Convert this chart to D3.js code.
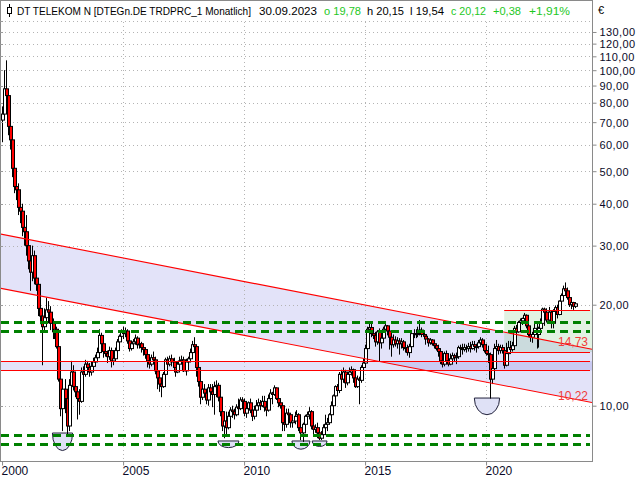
<!DOCTYPE html>
<html><head><meta charset="utf-8">
<script src="https://cdn.jsdelivr.net/npm/d3@7"></script>
<style>body{margin:0;background:#fff}svg{display:block}</style>
</head><body>
<svg id="chart" width="640" height="480"></svg>
<script>
// ---------- DATA (monthly candles Jan 2000 .. Sep 2023) ----------
const firstMonth = new Date(2000, 0, 1);
const lastMonthExclusive = new Date(2023, 9, 1);

const openValues = [
  71, 74, 88, 84, 68, 62, 51, 45, 44, 39, 38, 34,
  33, 30, 27, 25, 28, 24, 23, 19.5, 18.5, 17.2, 18.3, 19.3,
  19.0, 17.6, 16.6, 16.9, 15.0, 12.0, 9.8, 11.2, 10.5, 8.7, 11.5, 12.6,
  11.4, 11.0, 10.5, 10.3, 12.6, 12.4, 13.3, 13.0, 12.6, 13.1, 13.5, 13.9,
  14.4, 16.2, 15.3, 14.5, 14.3, 14.0, 14.6, 13.6, 13.8, 14.6, 15.5, 16.1,
  16.6, 16.4, 16.7, 15.6, 14.8, 15.3, 15.5, 15.9, 15.2, 15.3, 14.9, 14.7,
  14.2, 13.6, 13.3, 13.9, 13.7, 12.7, 12.1, 11.6, 11.4, 12.4, 13.7, 13.3,
  13.8, 13.5, 13.0, 12.6, 13.3, 13.6, 13.7, 12.7, 13.5, 13.8, 14.4, 15.2,
  15.0, 13.0, 11.8, 10.6, 11.2, 10.9, 10.4, 11.3, 11.0, 10.8, 11.4, 11.5,
  10.6, 9.6, 8.7, 9.0, 8.6, 9.3, 9.7, 9.6, 9.4, 9.9, 9.8, 10.4,
  10.3, 9.5, 9.8, 10.2, 9.7, 9.3, 9.7, 10.0, 10.2, 10.0, 10.3, 9.9,
  9.7, 10.5, 10.9, 10.8, 11.3, 10.5, 10.2, 10.0, 8.9, 8.8, 9.5, 9.4,
  8.9, 9.0, 9.3, 9.4, 8.6, 8.3, 8.8, 9.3, 9.4, 9.6, 8.7, 8.5,
  8.6, 8.3, 8.0, 8.2, 8.6, 8.8, 8.9, 9.4, 10.0, 10.7, 11.4, 11.1,
  12.4, 12.0, 12.6, 11.7, 12.4, 12.6, 12.8, 12.1, 11.4, 12.0, 11.9, 13.0,
  13.4, 14.8, 16.9, 17.1, 16.4, 16.2, 15.5, 16.6, 15.4, 15.9, 16.9, 17.3,
  16.7, 16.0, 15.2, 15.7, 15.3, 15.6, 15.3, 15.5, 14.9, 14.9, 14.4, 15.0,
  16.4, 16.3, 16.4, 16.5, 16.8, 16.3, 16.1, 15.8, 15.4, 15.7, 15.3, 15.1,
  14.8, 14.5, 13.6, 13.3, 14.3, 13.6, 13.3, 13.8, 14.1, 13.9, 14.0, 14.9,
  14.8, 14.7, 14.9, 14.8, 15.0, 14.8, 15.2, 15.0, 15.0, 15.4, 15.7, 15.2,
  14.6, 14.3, 14.2, 12.0, 12.9, 14.8, 15.0, 14.6, 14.9, 14.6, 13.2, 14.3,
  14.9, 14.7, 15.1, 17.0, 16.6, 17.7, 17.9, 18.2, 18.6, 17.3, 16.3, 16.0,
  16.3, 17.0, 16.3, 17.0, 17.6, 19.4, 19.0, 18.0, 19.0, 17.6, 19.1, 19.6,
  18.7, 20.5, 21.3, 22.3, 22.0, 21.0, 20.0, 20.3, 19.78
];
const highValues = [
  78, 100, 107, 86, 73, 63, 53, 48, 46, 44, 40, 37,
  37, 31, 28, 30, 29, 27, 24, 21, 19.5, 19.5, 21, 20.5,
  19.8, 18.2, 17.6, 17.2, 15.2, 12.2, 11.8, 12.0, 10.8, 12.0, 13.6, 13.2,
  12.3, 11.3, 11.2, 13.0, 13.1, 13.7, 13.6, 13.4, 13.5, 13.9, 14.2, 14.9,
  16.9, 16.5, 15.6, 15.2, 14.6, 15.0, 14.9, 14.1, 14.9, 15.8, 16.3, 16.9,
  17.2, 17.1, 16.9, 15.8, 15.6, 15.8, 16.3, 16.1, 15.6, 15.5, 15.0, 14.8,
  14.4, 14.0, 14.2, 14.5, 14.0, 12.9, 12.4, 11.9, 12.6, 13.9, 14.0, 14.1,
  14.2, 13.9, 13.3, 13.6, 14.0, 14.1, 14.0, 13.8, 14.0, 14.8, 15.6, 16.0,
  15.2, 13.3, 12.0, 11.6, 11.6, 11.0, 11.6, 11.6, 11.6, 11.8, 11.9, 11.7,
  11.0, 9.9, 9.5, 9.6, 9.6, 9.9, 10.0, 9.8, 10.1, 10.5, 10.6, 10.6,
  10.5, 10.0, 10.3, 10.5, 9.8, 10.0, 10.4, 10.5, 10.4, 10.7, 10.7, 10.0,
  10.8, 11.2, 11.0, 11.5, 11.3, 10.6, 10.5, 10.2, 9.4, 9.8, 9.8, 9.5,
  9.4, 9.6, 9.7, 9.5, 8.8, 8.9, 9.4, 9.6, 9.9, 9.7, 8.9, 8.8,
  8.9, 8.6, 8.4, 8.8, 9.4, 9.2, 9.5, 10.3, 10.8, 11.5, 11.6, 12.6,
  12.8, 13.0, 12.8, 12.6, 13.0, 13.1, 12.9, 12.4, 12.3, 12.2, 13.2, 13.8,
  15.2, 17.2, 17.6, 17.6, 16.8, 16.6, 16.8, 17.0, 16.4, 17.2, 17.6, 17.4,
  16.9, 16.2, 16.3, 16.1, 16.0, 15.9, 15.9, 15.7, 15.3, 15.2, 15.3, 16.5,
  16.9, 16.9, 17.2, 18.0, 17.1, 16.6, 16.1, 15.9, 15.9, 15.8, 15.6, 15.2,
  15.2, 14.6, 13.9, 14.5, 14.6, 13.9, 14.3, 14.4, 14.3, 14.4, 15.1, 15.2,
  15.3, 15.3, 15.2, 15.4, 15.5, 15.6, 15.6, 15.3, 15.7, 16.0, 15.9, 15.5,
  15.3, 15.1, 14.4, 13.8, 15.3, 15.7, 15.3, 15.2, 15.2, 14.8, 15.4, 15.6,
  15.6, 15.5, 17.3, 17.4, 17.9, 18.2, 18.3, 18.9, 18.7, 17.4, 16.8, 16.6,
  17.6, 17.6, 17.2, 18.2, 19.6, 19.6, 19.5, 19.7, 19.2, 19.4, 19.9, 20.0,
  20.6, 21.6, 22.8, 23.3, 22.5, 21.2, 20.6, 20.4, 20.15
];
const lowValues = [
  61, 72, 80, 64, 58, 48, 43, 41, 37, 35, 32, 30,
  28, 25.5, 22, 23.5, 23, 22, 18.5, 17.5, 13.2, 16.5, 17.5, 17.6,
  16.8, 15.8, 15.8, 14.8, 11.8, 9.3, 8.4, 9.5, 8.2, 8.4, 11.0, 11.1,
  10.6, 9.1, 9.4, 10.2, 11.8, 12.2, 12.6, 12.2, 12.3, 12.8, 13.2, 13.6,
  14.4, 15.0, 13.9, 14.0, 13.4, 13.7, 13.0, 13.2, 13.6, 14.4, 15.2, 15.9,
  15.8, 16.0, 15.3, 14.5, 14.6, 15.0, 15.2, 14.8, 14.8, 14.4, 14.1, 13.8,
  13.0, 12.9, 13.1, 13.4, 12.4, 11.2, 11.0, 10.6, 11.3, 12.3, 12.9, 13.1,
  13.1, 12.7, 12.2, 12.5, 13.1, 13.3, 12.6, 12.3, 13.0, 13.6, 14.1, 14.6,
  12.2, 11.4, 10.1, 10.4, 10.6, 10.1, 10.0, 10.7, 9.9, 9.4, 10.6, 10.3,
  9.3, 8.4, 8.0, 8.2, 8.5, 9.0, 9.2, 9.1, 9.3, 9.5, 9.7, 9.9,
  9.3, 9.2, 9.6, 9.5, 9.0, 9.1, 9.6, 9.9, 9.7, 9.9, 9.6, 9.3,
  9.6, 10.3, 10.1, 10.7, 10.4, 9.9, 9.8, 8.4, 8.4, 8.6, 9.0, 8.6,
  8.6, 8.8, 9.0, 8.4, 7.9, 7.8, 8.5, 9.0, 9.1, 8.5, 8.2, 8.3,
  8.0, 7.9, 7.9, 8.0, 8.5, 8.4, 8.8, 9.3, 9.8, 10.6, 10.9, 10.9,
  11.6, 11.7, 11.3, 11.5, 12.2, 12.3, 11.7, 11.3, 11.3, 10.1, 11.7, 12.6,
  13.2, 14.6, 16.3, 16.0, 15.8, 15.0, 15.2, 13.5, 14.8, 15.6, 16.6, 16.2,
  14.7, 14.0, 14.9, 15.0, 14.8, 14.2, 14.8, 14.6, 14.4, 14.1, 13.9, 14.8,
  15.9, 15.9, 16.0, 16.2, 16.0, 15.9, 15.2, 15.0, 15.2, 15.1, 14.8, 14.6,
  14.0, 13.3, 13.0, 13.1, 13.3, 13.1, 13.2, 13.7, 13.5, 13.3, 13.8, 14.2,
  14.2, 14.5, 14.4, 14.5, 14.4, 14.7, 14.6, 14.4, 14.8, 15.2, 14.9, 14.4,
  14.1, 13.4, 10.5, 11.6, 12.7, 14.6, 14.2, 14.3, 14.3, 12.9, 13.1, 14.2,
  14.3, 14.5, 14.8, 16.2, 16.5, 17.2, 17.4, 17.8, 17.0, 16.0, 15.5, 15.4,
  16.2, 14.8, 14.9, 16.7, 17.2, 17.3, 17.7, 17.9, 17.0, 17.0, 18.8, 18.2,
  18.6, 20.3, 20.5, 21.6, 20.7, 19.7, 19.4, 19.3, 19.54
];
const closeValues = [
  74, 88, 84, 68, 62, 51, 45, 44, 39, 38, 34, 33,
  30, 27, 25, 28, 24, 23, 19.5, 18.5, 17.2, 18.3, 19.3, 19.0,
  17.6, 16.6, 16.9, 15.0, 12.0, 9.8, 11.2, 10.5, 8.7, 11.5, 12.6, 11.4,
  11.0, 10.5, 10.3, 12.6, 12.4, 13.3, 13.0, 12.6, 13.1, 13.5, 13.9, 14.4,
  16.2, 15.3, 14.5, 14.3, 14.0, 14.6, 13.6, 13.8, 14.6, 15.5, 16.1, 16.6,
  16.4, 16.7, 15.6, 14.8, 15.3, 15.5, 15.9, 15.2, 15.3, 14.9, 14.7, 14.2,
  13.6, 13.3, 13.9, 13.7, 12.7, 12.1, 11.6, 11.4, 12.4, 13.7, 13.3, 13.8,
  13.5, 13.0, 12.6, 13.3, 13.6, 13.7, 12.7, 13.5, 13.8, 14.4, 15.2, 15.0,
  13.0, 11.8, 10.6, 11.2, 10.9, 10.4, 11.3, 11.0, 10.8, 11.4, 11.5, 10.6,
  9.6, 8.7, 9.0, 8.6, 9.3, 9.7, 9.6, 9.4, 9.9, 9.8, 10.4, 10.3,
  9.5, 9.8, 10.2, 9.7, 9.3, 9.7, 10.0, 10.2, 10.0, 10.3, 9.9, 9.7,
  10.5, 10.9, 10.8, 11.3, 10.5, 10.2, 10.0, 8.9, 8.8, 9.5, 9.4, 8.9,
  9.0, 9.3, 9.4, 8.6, 8.3, 8.8, 9.3, 9.4, 9.6, 8.7, 8.5, 8.6,
  8.3, 8.0, 8.2, 8.6, 8.8, 8.9, 9.4, 10.0, 10.7, 11.4, 11.1, 12.4,
  12.0, 12.6, 11.7, 12.4, 12.6, 12.8, 12.1, 11.4, 12.0, 11.9, 13.0, 13.4,
  14.8, 16.9, 17.1, 16.4, 16.2, 15.5, 16.6, 15.4, 15.9, 16.9, 17.3, 16.7,
  16.0, 15.2, 15.7, 15.3, 15.6, 15.3, 15.5, 14.9, 14.9, 14.4, 15.0, 16.4,
  16.3, 16.4, 16.5, 16.8, 16.3, 16.1, 15.8, 15.4, 15.7, 15.3, 15.1, 14.8,
  14.5, 13.6, 13.3, 14.3, 13.6, 13.3, 13.8, 14.1, 13.9, 14.0, 14.9, 14.8,
  14.7, 14.9, 14.8, 15.0, 14.8, 15.2, 15.0, 15.0, 15.4, 15.7, 15.2, 14.6,
  14.3, 14.2, 12.0, 12.9, 14.8, 15.0, 14.6, 14.9, 14.6, 13.2, 14.3, 14.9,
  14.7, 15.1, 17.0, 16.6, 17.7, 17.9, 18.2, 18.6, 17.3, 16.3, 16.0, 16.3,
  17.0, 16.3, 17.0, 17.6, 19.4, 19.0, 18.0, 19.0, 17.6, 19.1, 19.6, 18.7,
  20.5, 21.3, 22.3, 22.0, 21.0, 20.0, 20.3, 19.78, 20.12
];

const priceTicks = [10, 20, 30, 40, 50, 60, 70, 80, 90, 100, 110, 120, 130];
const gridPrices = [10, 20, 30, 40, 50, 60, 70, 80, 90, 100, 110, 120, 130, 140];
const yearTicks = [2000, 2005, 2010, 2015, 2020];

// drawn analysis objects (prices)
const channelUpper = [32.5, 14.73];   // at chart start / chart end
const channelLower = [22.4, 10.22];
const bandLevels = [12.74, 13.57];
const supportLevels = [17.8, 16.7, 8.18, 7.69];
const zoneStart = new Date(2020, 9, 1);
const zoneLevels = [19.29, 14.45];
// semicircles: centre date, top price, bottom price, half width in months
const bowlDates = [new Date(2002, 6, 1), new Date(2009, 4, 10), new Date(2012, 4, 8), new Date(2013, 1, 14), new Date(2020, 0, 15)];
const bowlTops = [8.29, 7.85, 7.85, 7.85, 10.54];
const bowlBottoms = [7.35, 7.5, 7.42, 7.56, 9.4];
const bowlHalfMonths = [5, 5.2, 4.5, 3.7, 6.3];

const headerParts = [
  {t: "DT TELEKOM N [DTEGn.DE TRDPRC_1 Monatlich]", c: "#000"},
  {t: "30.09.2023", c: "#000"},
  {t: "o 19,78", c: "#1ec81e"},
  {t: "h 20,15", c: "#000"},
  {t: "l 19,54", c: "#000"},
  {t: "c 20,12", c: "#1ec81e"},
  {t: "+0,38", c: "#1ec81e"},
  {t: "+1,91%", c: "#1ec81e"}
];

// ---------- LAYOUT ----------
const W = 640, H = 480;
const plotRight = 592, plotBottom = 461;
const svg = d3.select("#chart");
const font = "'Liberation Sans', Arial, sans-serif";

const months = d3.timeMonth.range(firstMonth, lastMonthExclusive);
const candles = months.map((d, i) => ({d, o: openValues[i], h: highValues[i], l: lowValues[i], c: closeValues[i]}));

const xStart = new Date(1999, 11, 1), xEnd = new Date(2024, 4, 18);
const x = d3.scaleTime().domain([xStart, xEnd]).range([0, plotRight]);
const y = d3.scaleLog().domain([10, 100]).range([405.7, 70.2]);

svg.append("rect").attr("width", W).attr("height", H).attr("fill", "#fff");

const defs = svg.append("defs");
defs.append("clipPath").attr("id", "plotclip").append("rect")
  .attr("x", 1).attr("y", 1).attr("width", plotRight - 1).attr("height", plotBottom - 1);

const plot = svg.append("g").attr("clip-path", "url(#plotclip)");

// channel fill
const chan = [
  [x(xStart), y(channelUpper[0])], [x(xEnd), y(channelUpper[1])],
  [x(xEnd), y(channelLower[1])], [x(xStart), y(channelLower[0])]
];
plot.append("path").attr("d", d3.line()(chan) + "Z").attr("fill", "rgba(40,40,210,0.13)");
// band fill
plot.append("rect").attr("x", x(xStart)).attr("width", x(xEnd) - x(xStart))
  .attr("y", y(bandLevels[1])).attr("height", y(bandLevels[0]) - y(bandLevels[1]))
  .attr("fill", "rgba(40,40,210,0.13)");
// green zone
plot.append("rect").attr("x", x(zoneStart)).attr("width", x(xEnd) - x(zoneStart))
  .attr("y", y(zoneLevels[0])).attr("height", y(zoneLevels[1]) - y(zoneLevels[0]))
  .attr("fill", "rgba(110,190,110,0.2)");

// grid
const gridG = plot.append("g").attr("stroke", "#b4b4b4").attr("stroke-dasharray", "1,3").attr("stroke-width", 1);
gridPrices.forEach(p => {
  const yy = Math.round(y(p)) + 0.5;
  gridG.append("line").attr("x1", 1).attr("x2", plotRight).attr("y1", yy).attr("y2", yy);
});
yearTicks.slice(1).forEach(yr => {
  const xx = Math.round(x(new Date(yr, 0, 1))) + 0.5;
  gridG.append("line").attr("x1", xx).attr("x2", xx).attr("y1", 22).attr("y2", plotBottom);
});

// semicircles
bowlDates.forEach((d, i) => {
  const cx = x(d);
  const rx = x(d3.timeDay.offset(d, bowlHalfMonths[i] * 30.44)) - cx;
  const yt = y(bowlTops[i]), ry = y(bowlBottoms[i]) - yt;
  plot.append("path")
    .attr("d", `M${cx - rx},${yt} A${rx},${ry} 0 0 0 ${cx + rx},${yt} Z`)
    .attr("fill", "#dfe1f6").attr("stroke", "#20203a").attr("stroke-width", 1);
});

// candles
const cg = plot.append("g");
candles.forEach(k => {
  const cx = Math.round(x(k.d));
  cg.append("line").attr("x1", cx + 0.5).attr("x2", cx + 0.5)
    .attr("y1", y(k.h)).attr("y2", y(k.l)).attr("stroke", "#000").attr("stroke-width", 1);
});
candles.forEach(k => {
  const cx = Math.round(x(k.d));
  const top = y(Math.max(k.o, k.c)), bot = y(Math.min(k.o, k.c));
  cg.append("rect").attr("x", cx - 0.5).attr("width", 3)
    .attr("y", top).attr("height", Math.max(1, bot - top))
    .attr("fill", k.c < k.o ? "#ff0000" : "#ffffff")
    .attr("stroke", "#000").attr("stroke-width", 1);
});

// red lines
const red = "#ff0000";
plot.append("line").attr("x1", x(xStart)).attr("y1", y(channelUpper[0])).attr("x2", x(xEnd)).attr("y2", y(channelUpper[1]))
  .attr("stroke", red).attr("stroke-width", 1.1);
plot.append("line").attr("x1", x(xStart)).attr("y1", y(channelLower[0])).attr("x2", x(xEnd)).attr("y2", y(channelLower[1]))
  .attr("stroke", red).attr("stroke-width", 1.1);
bandLevels.forEach(p => {
  const yy = Math.round(y(p)) + 0.5;
  plot.append("line").attr("x1", 0).attr("x2", plotRight - 2).attr("y1", yy).attr("y2", yy)
    .attr("stroke", red).attr("stroke-width", 1.2);
});
zoneLevels.forEach(p => {
  const yy = Math.round(y(p)) + 0.5;
  plot.append("line").attr("x1", x(zoneStart)).attr("x2", plotRight - 2).attr("y1", yy).attr("y2", yy)
    .attr("stroke", red).attr("stroke-width", 1.2);
});

// green dashed support/resistance
supportLevels.forEach(p => {
  const yy = Math.round(y(p)) + 0.5;
  plot.append("line").attr("x1", 1).attr("x2", plotRight - 2).attr("y1", yy).attr("y2", yy)
    .attr("stroke", "#008000").attr("stroke-width", 3).attr("stroke-dasharray", "8,5");
});

// channel end labels
const fmt = v => d3.format(".2f")(v).replace(".", ",");
[channelUpper[1], channelLower[1]].forEach(v => {
  svg.append("text").attr("x", plotRight - 4).attr("y", y(v) - 3).attr("text-anchor", "end")
    .attr("font-family", font).attr("font-size", 12).attr("fill", "#f03c3c").text(fmt(v));
});

// frame
const frame = svg.append("g").attr("stroke", "#8a8a8a").attr("stroke-width", 1).attr("fill", "none");
frame.append("line").attr("x1", 0.5).attr("x2", 0.5).attr("y1", 0).attr("y2", plotBottom + 0.5);
frame.append("line").attr("x1", 0).attr("x2", plotRight + 0.5).attr("y1", 0.5).attr("y2", 0.5);
frame.append("line").attr("x1", plotRight + 0.5).attr("x2", plotRight + 0.5).attr("y1", 0).attr("y2", plotBottom + 0.5);
frame.append("line").attr("x1", 0).attr("x2", plotRight + 1).attr("y1", plotBottom + 0.5).attr("y2", plotBottom + 0.5);

// right axis
const yAxis = d3.axisRight(y).tickValues(priceTicks).tickSize(4).tickPadding(3)
  .tickFormat(d => d3.format(".2f")(d).replace(".", ","));
const ya = svg.append("g").attr("transform", `translate(${plotRight + 0.5},0)`).call(yAxis);
ya.select(".domain").remove();
ya.selectAll(".tick line").attr("stroke", "#8a8a8a");
ya.selectAll(".tick text").attr("font-family", font).attr("font-size", 11).attr("letter-spacing", 0.4)
  .attr("fill", "#0a0a28").attr("dy", "0.35em");

// left small ticks
gridPrices.forEach(p => {
  const yy = Math.round(y(p)) + 0.5;
  svg.append("line").attr("x1", 0).attr("x2", 3).attr("y1", yy).attr("y2", yy).attr("stroke", "#9a9a9a");
});

// bottom axis
const xAxis = d3.axisBottom(x).tickValues(yearTicks.map(v => new Date(v, 0, 1))).tickSize(4)
  .tickFormat(d3.timeFormat("%Y"));
const xa = svg.append("g").attr("transform", `translate(0,${plotBottom + 0.5})`).call(xAxis);
xa.select(".domain").remove();
xa.selectAll(".tick line").attr("stroke", "#8a8a8a");
xa.selectAll(".tick text").attr("font-family", font).attr("font-size", 12).attr("fill", "#0a0a28")
  .attr("text-anchor", "start").attr("dx", -1).attr("dy", "0.55em");

// header
const headerX = [17, 259, 324, 367, 410, 451, 493, 529];
const headerW = [234, 58, 37, 37, 34, 35, 28, 41];
const headerSize = [10, 11.5, 11.5, 11.5, 11.5, 11.5, 11.5, 11.5];
headerParts.forEach((p, i) => {
  svg.append("text").attr("x", headerX[i]).attr("y", 15).attr("font-family", font).attr("font-size", headerSize[i])
    .attr("fill", p.c).attr("textLength", headerW[i]).attr("lengthAdjust", "spacingAndGlyphs").text(p.t);
});
// candle icon
svg.append("line").attr("x1", 9.5).attr("x2", 9.5).attr("y1", 4).attr("y2", 17).attr("stroke", "#000");
svg.append("rect").attr("x", 7.5).attr("y", 7.5).attr("width", 4).attr("height", 6).attr("fill", "#fff").attr("stroke", "#000");
svg.append("text").attr("x", 598).attr("y", 14).attr("font-family", font).attr("font-size", 11).attr("fill", "#000").text("€");
</script>
</body></html>
